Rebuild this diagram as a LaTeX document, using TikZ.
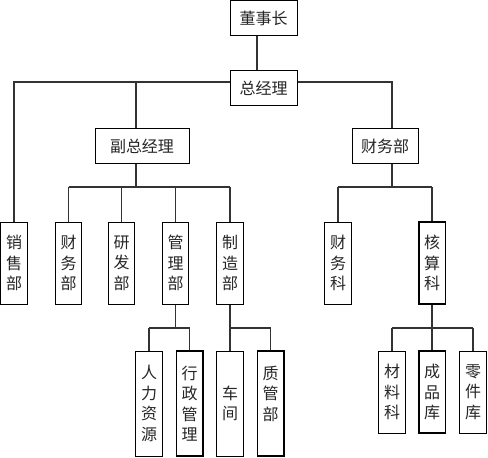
\documentclass[tikz,border=0pt]{standalone}
\usepackage{fontspec}
\newfontfamily\cjk{Noto Sans CJK SC}
\begin{document}
\begin{tikzpicture}[x=1pt,y=-1pt,
  box/.style={draw=black,line width=1pt,fill=white,inner sep=0pt,
    font=\cjk\fontsize{16}{20.5}\selectfont,text=black!85,align=center},
  hbox/.style={box,minimum height=35pt},
  vbox/.style={box,minimum width=26.5pt},
  thickbox/.style={line width=1.5pt},
  conn/.style={draw=black!80,line width=1.1pt}
]
\useasboundingbox (0,0) rectangle (488,458);
% level 0-1
\node[hbox,minimum width=67pt] (dsz) at (263.5,18) {董事长};
\node[hbox,minimum width=67pt] (zjl) at (263.5,88) {总经理};
\node[hbox,minimum width=94pt] (fzjl) at (142,146) {副总经理};
\node[hbox,minimum width=66pt] (cwb) at (385,146) {财务部};
% level 2
\node[vbox,minimum height=82pt] (xsb) at (14,263) {销\\售\\部};
\node[vbox,minimum height=82pt] (cwb2) at (68.5,263) {财\\务\\部};
\node[vbox,minimum height=82pt] (yfb) at (121.5,263) {研\\发\\部};
\node[vbox,minimum height=82pt] (glb) at (175.5,263) {管\\理\\部};
\node[vbox,minimum height=82pt] (zzb) at (230,263) {制\\造\\部};
\node[vbox,minimum height=82pt] (cwk) at (338,263) {财\\务\\科};
\node[vbox,minimum height=82pt,thickbox] (hsk) at (432,263) {核\\算\\科};
% level 3
\node[vbox,minimum height=105pt] (rlzy) at (149,403.5) {人\\力\\资\\源};
\node[vbox,minimum height=105pt,thickbox] (xzgl) at (189.5,403.5) {行\\政\\管\\理};
\node[vbox,minimum height=105pt] (cj) at (230,403.5) {车\\间};
\node[vbox,minimum height=105pt,thickbox] (zgb) at (270.5,403.5) {质\\管\\部\\\mbox{}};
\node[vbox,minimum height=82pt] (cll) at (392,392) {材\\料\\科};
\node[vbox,minimum height=82pt,thickbox] (cpk) at (432,392) {成\\品\\库};
\node[vbox,minimum height=82pt] (ljk) at (473,392) {零\\件\\库};
% junction coordinates
\coordinate (jtop) at (257,82);
\coordinate (jfz) at (136,82);
\coordinate (jcw) at (392,82);
\coordinate (bus1) at (0,187);
\coordinate (bus2) at (0,328);
% connectors
\draw[conn] (dsz.south -| jtop) -- (zjl.north -| jtop);
\draw[conn] (zjl.west |- jtop) -| (xsb.north);
\draw[conn] (jfz) -- (fzjl.north -| jfz);
\draw[conn] (zjl.east |- jtop) -| (cwb.north -| jcw);
% under fzjl
\draw[conn] (fzjl.south -| jfz) -- (jfz |- bus1);
\draw[conn] (cwb2.north |- bus1) -- (zzb.north |- bus1);
\foreach \n in {cwb2,yfb,glb,zzb} \draw[conn] (\n.north |- bus1) -- (\n.north);
% under cwb
\draw[conn] (cwb.south -| jcw) -- (jcw |- bus1);
\draw[conn] (cwk.north |- bus1) -- (hsk.north |- bus1);
\foreach \n in {cwk,hsk} \draw[conn] (\n.north |- bus1) -- (\n.north);
% under glb
\draw[conn] (glb.south) -- (glb.south |- bus2);
\draw[conn] (rlzy.north |- bus2) -- (xzgl.north |- bus2);
\foreach \n in {rlzy,xzgl} \draw[conn] (\n.north |- bus2) -- (\n.north);
% under zzb
\draw[conn] (zzb.south) -- (zzb.south |- bus2);
\draw[conn] (cj.north |- bus2) -- (zgb.north |- bus2);
\foreach \n in {cj,zgb} \draw[conn] (\n.north |- bus2) -- (\n.north);
% under hsk
\draw[conn] (hsk.south) -- (hsk.south |- bus2);
\draw[conn] (cll.north |- bus2) -- (ljk.north |- bus2);
\foreach \n in {cll,cpk,ljk} \draw[conn] (\n.north |- bus2) -- (\n.north);
\end{tikzpicture}
\end{document}
